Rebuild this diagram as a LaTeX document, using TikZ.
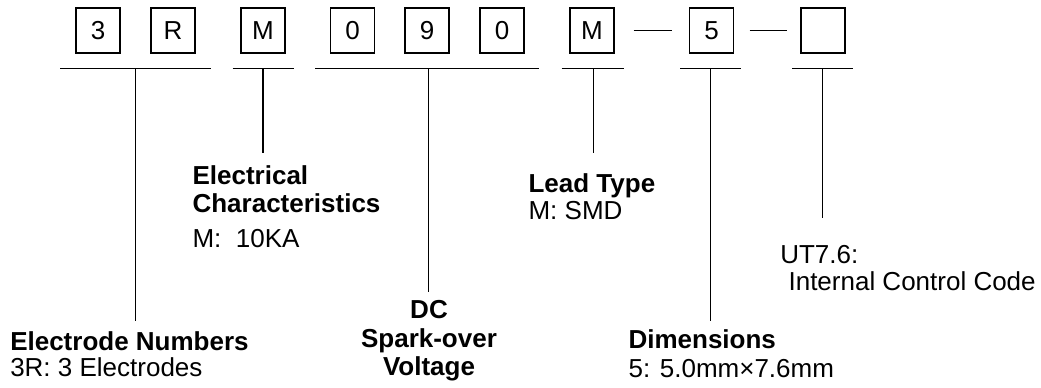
\documentclass[tikz,border=0pt]{standalone}
\usepackage{fontspec}
\setmainfont{Liberation Sans}
\begin{document}
\begin{tikzpicture}[x=0.75pt,y=-0.75pt,
  codebox/.style={draw,line width=1pt,minimum width=33pt,minimum height=33.75pt,inner sep=0pt,font=\fontsize{19.5}{23}\selectfont},
  bracket/.style={line width=1pt},
  lbl/.style={inner sep=0pt,anchor=base west,font=\fontsize{19.5}{23}\selectfont},
  lblb/.style={lbl,font=\fontsize{19.5}{23}\selectfont\bfseries},
  clbl/.style={lblb,anchor=base}]
\useasboundingbox (0,0) rectangle (1041,387);
% code boxes
\node[codebox] (c1) at (98,30.5) {3};
\node[codebox] (c2) at (173,30.5) {R};
\node[codebox] (c3) at (263,30.5) {M};
\node[codebox] (c4) at (352.7,30.5) {0};
\node[codebox] (c5) at (427,30.5) {9};
\node[codebox] (c6) at (502,30.5) {0};
\node[codebox] (c7) at (592,30.5) {M};
\node[codebox] (c8) at (711.5,30.5) {5};
\node[codebox] (c9) at (823,30.5) {};
\draw[bracket,shorten <=14.2pt,shorten >=12.8pt] (c7.east) -- (c8.west);
\draw[bracket,shorten <=11.5pt,shorten >=10.3pt] (c8.east) -- (c9.west);
% brackets
\coordinate (b1) at (135.7,68.3);
\coordinate (b2) at (263,68.3);
\coordinate (b3) at (428.7,68.3);
\coordinate (b4) at (593.3,68.3);
\coordinate (b5) at (710.7,68.3);
\coordinate (b6) at (822.7,68.3);
\draw[bracket] (60,68.3) -- (211,68.3);
\draw[bracket] (232.7,68.3) -- (294,68.3);
\draw[bracket] (315,68.3) -- (539.3,68.3);
\draw[bracket] (561.7,68.3) -- (623.7,68.3);
\draw[bracket] (680.3,68.3) -- (741.3,68.3);
\draw[bracket] (792.3,68.3) -- (853.3,68.3);
% leader ends
\coordinate (e1) at (135.7,320.7);
\coordinate (e2) at (263,153.3);
\coordinate (e3) at (428.7,292.3);
\coordinate (e4) at (593.3,153.3);
\coordinate (e5) at (710.7,320.5);
\coordinate (e6) at (822.7,218.3);
\draw[bracket] (b1) -- (e1);
\draw[bracket] (b2) -- (e2);
\draw[bracket] (b3) -- (e3);
\draw[bracket] (b4) -- (e4);
\draw[bracket] (b5) -- (e5);
\draw[bracket] (b6) -- (e6);
% labels
\node[lblb] (l1a) at (10,350) {Electrode Numbers};
\node[lbl] (l1b) at (10,376.7) {3R: 3 Electrodes};
\node[lblb] (l2a) at (192.3,184.3) {Electrical};
\node[lblb] (l2b) at (192.3,212.3) {Characteristics};
\node[lbl] (l2c) at (192.3,247.3) {M:\ \ 10KA};
\node[clbl] (l3a) at (429,318.3) {DC};
\node[clbl] (l3b) at (429,347.3) {Spark-over};
\node[clbl] (l3c) at (429,375) {Voltage};
\node[lblb] (l4a) at (528.3,192.5) {Lead Type};
\node[lbl] (l4b) at (528.3,219.5) {M: SMD};
\node[lblb] (l5a) at (628.3,348.3) {Dimensions};
\node[lbl] (l5b) at (628.3,377.3) {5: 5.0mm×7.6mm};
\node[lbl] (l6a) at (780,263.3) {UT7.6:};
\node[lbl] (l6b) at (788.3,290) {Internal Control Code};
\end{tikzpicture}
\end{document}
